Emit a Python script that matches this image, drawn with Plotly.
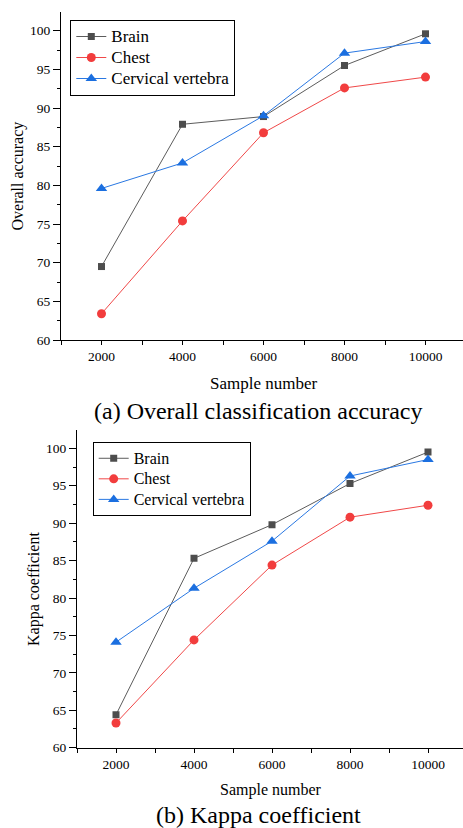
import plotly.graph_objects as go

samples = [2000, 4000, 6000, 8000, 10000]
series_names = ["Brain", "Chest", "Cervical vertebra"]

acc_brain = [69.5, 87.9, 88.9, 95.5, 99.6]
acc_chest = [63.4, 75.4, 86.8, 92.6, 94.0]
acc_cerv = [79.6, 82.9, 89.0, 97.1, 98.6]

kap_brain = [64.4, 85.3, 89.8, 95.3, 99.5]
kap_chest = [63.3, 74.4, 84.4, 90.8, 92.4]
kap_cerv = [74.1, 81.3, 87.6, 96.3, 98.5]

y_ticks = [60, 65, 70, 75, 80, 85, 90, 95, 100]
x_ticks = [2000, 4000, 6000, 8000, 10000]
x_tick_labels = ["2000", "4000", "6000", "8000", "10000"]

W, H = 463, 828
FONT = "'Liberation Serif', 'DejaVu Serif', serif"

styles = [
    dict(color="#4d4d4d", line="#5c5c5c", symbol="square", size=7),
    dict(color="#f23d3d", line="#f04848", symbol="circle", size=9),
    dict(color="#1b6fe0", line="#2a78e2", symbol="triangle-up", size=10),
]

fig = go.Figure()

def add_series(vals, xa, ya, legend, text_px):
    for name, v, st in zip(series_names, vals, styles):
        fig.add_trace(go.Scatter(
            x=samples, y=v, name=f"<span style='font-size:{text_px}px'>{name}</span>",
            mode="lines+markers",
            xaxis=xa, yaxis=ya, legend=legend,
            line=dict(color=st["line"], width=1),
            marker=dict(color=st["color"], symbol=st["symbol"], size=st["size"],
                        line=dict(width=0)),
        ))

add_series([acc_brain, acc_chest, acc_cerv], "x", "y", "legend", 17)
add_series([kap_brain, kap_chest, kap_cerv], "x2", "y2", "legend2", 16)

top = dict(l=61, r=463, t=12, b=340, xr=[1000, 1000 + (463 - 61) / 40.5 * 1000], yr=[60, 102.42])
bot = dict(l=77, r=463, t=430, b=747.7, xr=[1000, 1000 + (463 - 77) / 39.0 * 1000], yr=[60, 102.45])

def px(x):
    return x / W

def py(y):
    return 1 - y / H

def axes(g, xn, yn, xtop, yright, tickfont):
    xd = [px(g["l"]), px(g["r"])]
    yd = [py(g["b"]), py(g["t"])]
    common_line = dict(showline=True, linecolor="black", linewidth=1.3, showgrid=False,
                       zeroline=False, automargin=False)
    lay = {}
    lay["xaxis" + xn] = dict(domain=xd, range=g["xr"], anchor="y" + yn,
                            tickvals=x_ticks, ticktext=x_tick_labels,
                            ticks="outside", ticklen=4, tickwidth=1,
                            tickcolor="black",
                            minor=dict(tickvals=list(range(1000, 11000, 1000)), ticks="outside",
                                       ticklen=4, tickcolor="black"),
                            tickfont=dict(family=FONT, size=tickfont, color="black"),
                            **common_line)
    lay["yaxis" + yn] = dict(domain=yd, range=g["yr"], anchor="x" + xn,
                            tickvals=y_ticks, ticktext=[str(v) for v in y_ticks],
                            ticks="outside", ticklen=7, tickwidth=1,
                            tickcolor="black",
                            minor=dict(dtick=2.5, tick0=60, ticks="outside", ticklen=3,
                                       tickcolor="black"),
                            tickfont=dict(family=FONT, size=tickfont, color="black"),
                            **common_line)
    lay["xaxis" + xtop] = dict(overlaying="x" + xn, side="top", anchor="y" + yn,
                              range=g["xr"], tick0=1000, dtick=1000, ticks="inside",
                              ticklen=5, tickcolor="black", showticklabels=False,
                              **common_line)
    span = g["b"] - g["t"]
    step = 65.9 if xn == "" else 63.9
    lay["yaxis" + yright] = dict(overlaying="y" + yn, side="right", anchor="x" + xn,
                                range=[0, span / step], tick0=0, dtick=1, ticks="inside",
                                ticklen=4, tickcolor="black", showticklabels=False,
                                showline=False, showgrid=False, zeroline=False,
                                automargin=False,
                                minor=dict(dtick=0.5, ticks="inside", ticklen=2,
                                           tickcolor="#999999"))
    return lay

layout = {}
layout.update(axes(top, "", "", "3", "3", 13.5))
layout.update(axes(bot, "2", "2", "4", "4", 13.5))

annotations = [
    dict(text="Overall accuracy", x=px(17.5), y=py(176), textangle=-90, font_size=16),
    dict(text="Sample number", x=px(264), y=py(383), font_size=17),
    dict(text="(a) Overall classification accuracy", x=px(257.5), y=py(411), font_size=24),
    dict(text="Kappa coefficient", x=px(34), y=py(589), textangle=-90, font_size=16),
    dict(text="Sample number", x=px(271), y=py(790), font_size=16),
    dict(text="(b) Kappa coefficient", x=px(258), y=py(815), font_size=24),
]
ann = []
for a in annotations:
    fs = a.pop("font_size")
    ann.append(dict(xref="paper", yref="paper", showarrow=False, xanchor="center",
                    yanchor="middle", font=dict(family=FONT, size=fs, color="black"), **a))

fig.update_layout(
    width=W, height=H, margin=dict(l=0, r=0, t=0, b=0, autoexpand=False),
    paper_bgcolor="white", plot_bgcolor="white",
    font=dict(family=FONT, color="black"),
    annotations=ann,
    legend=dict(x=px(70.3), y=py(20), xanchor="left", yanchor="top",
                bgcolor="white", bordercolor="black", borderwidth=1,
                font=dict(family=FONT, size=13.85, color="black"),
                tracegroupgap=0, itemwidth=30),
    legend2=dict(x=px(92.7), y=py(442), xanchor="left", yanchor="top",
                 bgcolor="white", bordercolor="black", borderwidth=1,
                 font=dict(family=FONT, size=13.5, color="black"),
                 tracegroupgap=0, itemwidth=30),
    showlegend=True,
    **layout,
)

fig.write_html("out.html", config={"displayModeBar": False},
               post_script="document.body.style.margin='0px';")
